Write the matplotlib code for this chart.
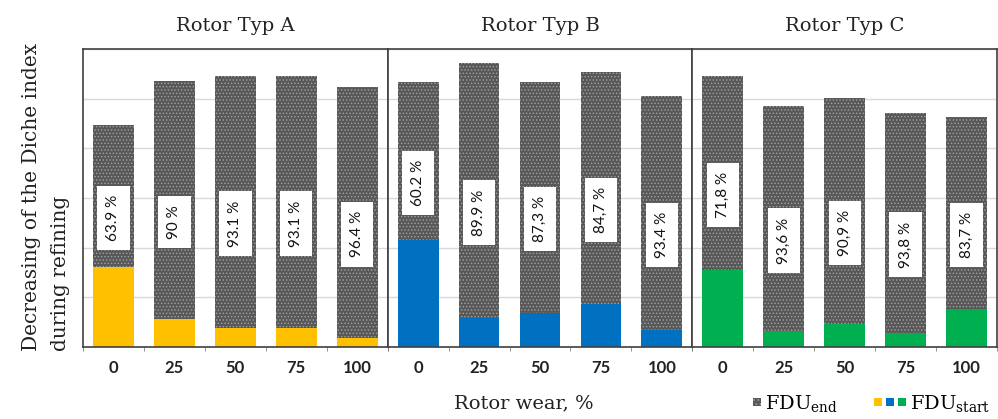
import numpy as np
import matplotlib
matplotlib.use("Agg")
import matplotlib.pyplot as plt
from matplotlib.patches import Rectangle, Patch
from matplotlib.legend_handler import HandlerBase

plt.rcParams["mathtext.fontset"] = "dejavuserif"
plt.rcParams["hatch.linewidth"] = 0.6

wear = ["0", "25", "50", "75", "100"]
rotors = ["Rotor Typ A", "Rotor Typ B", "Rotor Typ C"]
colors = ["#FFC000", "#0070C0", "#00B050"]

# coloured lower segment (FDU start) and grey upper segment (FDU end)
start_a = [16.1, 5.6, 3.9, 3.9, 1.9]
end_a = [28.6, 48.0, 50.7, 50.7, 50.4]
start_b = [21.5, 5.8, 6.9, 8.6, 3.4]
end_b = [31.9, 51.4, 46.5, 46.8, 47.1]
start_c = [15.5, 3.2, 4.6, 2.9, 7.6]
end_c = [39.1, 45.3, 45.5, 44.2, 38.7]

labels_a = ["63.9 %", "90 %", "93.1 %", "93.1 %", "96.4 %"]
labels_b = ["60.2 %", "89.9 %", "87,3 %", "84,7 %", "93.4 %"]
labels_c = ["71,8 %", "93,6 %", "90,9 %", "93,8 %", "83,7 %"]

starts = [start_a, start_b, start_c]
ends = [end_a, end_b, end_c]
labels = [labels_a, labels_b, labels_c]

grey = "#585858"
dots = "#a2a2a2"
frame = "#404040"


class SquaresHandler(HandlerBase):
    def create_artists(self, legend, orig_handle, xdescent, ydescent,
                       width, height, fontsize, trans):
        size = 0.42 * fontsize
        gap = 0.18 * fontsize
        n = len(orig_handle)
        out = []
        for i, p in enumerate(orig_handle):
            x0 = width - (n - i) * size - (n - 1 - i) * gap - xdescent
            y0 = (height - size) / 2 - ydescent
            r = Rectangle((x0, y0), size, size, facecolor=p.get_facecolor(),
                          edgecolor=p.get_edgecolor(), hatch=p.get_hatch(),
                          lw=0, transform=trans)
            out.append(r)
        return out


fig = plt.figure(figsize=(9.98, 4.19), dpi=100)
axes = fig.subplots(1, 3, sharey=True, gridspec_kw=dict(wspace=0))
fig.subplots_adjust(left=83 / 998, right=997 / 998,
                    bottom=1 - 347 / 419, top=1 - 49 / 419)

x = np.arange(len(wear))
for ax, title, st, en, lab, col in zip(axes, rotors, starts, ends, labels, colors):
    st = np.array(st)
    en = np.array(en)
    ax.bar(x, st, width=0.67, color=col, lw=0, zorder=2)
    ax.bar(x, en, bottom=st, width=0.67, facecolor=grey, edgecolor=dots,
           hatch=".....", lw=0, zorder=2)
    for xi, s, e, t in zip(x, st, en, lab):
        ax.text(xi, s + e / 2 - 4.4, t, rotation=90, ha="center", va="center",
                fontsize=11, family="Lato", color="#111111", zorder=3,
                bbox=dict(boxstyle="square,pad=0.6", fc="white", ec="none"))
    ax.set_xlim(-0.5, 4.5)
    ax.set_ylim(0, 60)
    ax.set_yticks(np.arange(0, 61, 10))
    ax.yaxis.grid(True, color="#d9d9d9", lw=1)
    ax.set_axisbelow(True)
    ax.tick_params(axis="y", left=False, labelleft=False)
    ax.set_xticks(x, wear)
    ax.set_xticks(np.arange(-0.5, 5, 1), minor=True)
    ax.tick_params(axis="x", which="major", length=0, pad=9)
    ax.tick_params(axis="x", which="minor", length=3, color="#7f7f7f",
                   direction="out")
    for lbl in ax.get_xticklabels():
        lbl.set_fontfamily("Lato")
        lbl.set_fontweight("bold")
        lbl.set_fontsize(12)
        lbl.set_color("#222222")
    for sp in ax.spines.values():
        sp.set_color(frame)
        sp.set_linewidth(1.2)
    ax.set_title(title, fontfamily="DejaVu Serif", fontsize=14, pad=13,
                 color="#222222")

fig.text(46 / 998, 1 - 197 / 419, "Decreasing of the Diche index\nduring refining",
         rotation=90, ha="center", va="center", multialignment="left",
         family="DejaVu Serif", fontsize=14.5, linespacing=1.65, color="#222222")
fig.text(524 / 998, 1 - 403 / 419, "Rotor wear, %", ha="center", va="center",
         family="DejaVu Serif", fontsize=14, color="#222222")

h_end = (Patch(facecolor=grey, edgecolor=dots, hatch="...."),)
h_start = tuple(Patch(facecolor=c) for c in colors)
fig.legend([h_end, h_start], [r"FDU$_{\rm end}$", r"FDU$_{\rm start}$"],
           handler_map={tuple: SquaresHandler()}, loc="center",
           bbox_to_anchor=(856 / 998, 1 - 403 / 419), ncol=2, frameon=False,
           handlelength=2.0, handletextpad=0.2, columnspacing=1.5,
           prop=dict(family="DejaVu Serif", size=14), borderpad=0)

fig.savefig("out.png", dpi=100)
